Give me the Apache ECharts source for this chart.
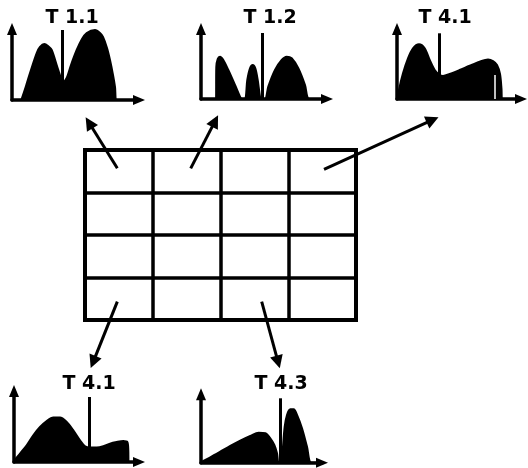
<!DOCTYPE html>
<html><head><meta charset="utf-8">
<script src="https://cdn.jsdelivr.net/npm/echarts@6/dist/echarts.min.js"></script>
<style>html,body{margin:0;padding:0;background:#fff}#c{width:528px;height:468px}</style>
</head><body><div id="c"></div>
<script>
// ---- data ----
const chartTitles = ['T 1.1', 'T 1.2', 'T 4.1', 'T 4.1', 'T 4.3'];
const curveT11 = [[0,0],[9,0],[10,2],[14,14],[18,27],[24.7,47],[28,53],[32.3,56],[36,54],[39.7,50],[46.3,30],[51.3,18],[54.7,22],[59,35],[64.7,50],[70,61],[74.7,67],[83,70],[88,67],[91,63],[95,52],[98,40],[101,25],[103,13],[104.7,0],[128,0]];
const curveT12 = [[0,0],[15,0],[15.3,32],[16.7,40],[19,42.3],[22.3,39],[27.3,29],[34,14],[39,2.3],[40.7,0],[44,0],[46.3,19],[49,30.7],[51.7,34],[54.3,30.7],[56.7,19],[59,2.3],[60,0],[64,0],[67.3,12.3],[74,29],[80.7,39],[85.7,42.3],[90.7,40.7],[97.3,30.7],[104,14],[108.3,0],[127,0]];
const curveT41a = [[0,0],[1,0],[2,9],[6,25.7],[11,40.7],[16,50.7],[22,54.7],[27.7,50.7],[32.7,39],[37.7,29],[42.7,24],[46,23],[52.7,25],[62.7,29],[72.7,33.3],[82.7,37.3],[91,39.5],[96,38],[100,34],[103,25],[104.5,10],[105,0],[125,0]];
const curveT41b = [[0,0],[0.5,1.7],[6,8.4],[12.7,16.7],[19.3,26.7],[26,35],[32.7,41],[39.3,44.4],[46,44.4],[52.7,40],[59.3,31.7],[66,21.7],[71,15.7],[76,14.4],[82.7,14.4],[89.3,15.7],[96,18.4],[102.7,20],[109.3,21],[113.3,20],[114.3,11.7],[114.5,0],[126,0]];
const curveT43 = [[0,0],[1,1],[9.3,5.4],[19.3,11],[29.3,16.7],[39.3,22],[49.3,26.7],[57.7,30],[64.3,29.4],[69.3,24.4],[73.3,17.7],[76,9.4],[77.7,0],[81,0],[82,16],[83.7,36],[86,47.7],[89.3,53.4],[92.7,53.4],[96,47.7],[101,34.4],[106,16],[110.3,0],[122,0]];
const curves = [curveT11, curveT12, curveT41a, curveT41b, curveT43];
const markerX = [50, 61.3, 42.7, 75.3, 79.3];
const markerTop = [70, 66, 65.7, 65, 64.4];
const gapMarkerX = [null, null, 98, null, null];
const gapMarkerTop = [null, null, 24, null, null];
const tableCols = 4;
const tableRows = 4;
// arrows in table cell units: [tailCol, tailRow, tipCol, tipRow]
const arrowLinks = [
  [0.477, 0.431, 0.06, -0.64],
  [1.56, 0.431, 1.92, -0.68],
  [3.528, 0.454, 5.13, -0.71],
  [0.477, 3.569, 0.12, 4.99],
  [2.608, 3.569, 2.85, 4.99]
];

// ---- layout (pixel positions) ----
const panels = [
  {axisX: 12,  base: 100,   tipX: 145, tipY: 23,    titleX: 72,  titleY: 18},
  {axisX: 201, base: 99,    tipX: 333, tipY: 23,    titleX: 270, titleY: 18},
  {axisX: 397, base: 99,    tipX: 527, tipY: 23,    titleX: 445, titleY: 18},
  {axisX: 14,  base: 462,   tipX: 145, tipY: 385,   titleX: 89,  titleY: 384},
  {axisX: 201, base: 462.7, tipX: 328, tipY: 388.3, titleX: 281, titleY: 384}
];
const table = {left: 85, top: 150, width: 271, height: 170};

const grids = [], xAxes = [], yAxes = [], series = [], graphics = [];
const axisLineStyle = {show: true, symbol: ['none', 'triangle'], symbolSize: [10, 12], lineStyle: {color: '#000', width: 3.5}};

panels.forEach((p, i) => {
  const w = p.tipX - 6 - p.axisX;
  const h = p.base - p.tipY - 6;
  grids.push({left: p.axisX, top: p.tipY + 6, width: w, height: h, show: false});
  xAxes.push({type: 'value', gridIndex: i, min: 0, max: w, axisLine: axisLineStyle,
    axisTick: {show: false}, axisLabel: {show: false}, splitLine: {show: false}});
  yAxes.push({type: 'value', gridIndex: i, min: 0, max: h, axisLine: axisLineStyle,
    axisTick: {show: false}, axisLabel: {show: false}, splitLine: {show: false}});
  const mlData = [[{coord: [markerX[i], 0], lineStyle: {color: '#000', width: 3}}, {coord: [markerX[i], markerTop[i]]}]];
  if (gapMarkerX[i] != null) {
    mlData.push([{coord: [gapMarkerX[i], 0], lineStyle: {color: '#fff', width: 1.5}}, {coord: [gapMarkerX[i], gapMarkerTop[i]]}]);
  }
  series.push({
    type: 'line', xAxisIndex: i, yAxisIndex: i, data: curves[i], symbol: 'none',
    smooth: 0.3, clip: false, z: 2,
    lineStyle: {color: '#000', width: 2}, areaStyle: {color: '#000', opacity: 1},
    markLine: {silent: true, symbol: ['none', 'none'], label: {show: false},
      lineStyle: {type: 'solid'}, data: mlData, z: 3}
  });
  graphics.push({type: 'text', x: p.titleX, y: p.titleY, z: 10,
    style: {text: chartTitles[i], fontSize: 19, fontWeight: 'bold', fontFamily: 'DejaVu Sans',
      fill: '#000', align: 'center', verticalAlign: 'middle'}});
});

// table grid
const ti = panels.length;
grids.push({left: table.left, top: table.top, width: table.width, height: table.height, show: true,
  borderColor: '#000', borderWidth: 4, backgroundColor: 'transparent'});
xAxes.push({type: 'value', gridIndex: ti, min: 0, max: tableCols, interval: 1,
  axisLine: {show: false}, axisTick: {show: false}, axisLabel: {show: false},
  splitLine: {show: true, lineStyle: {color: '#000', width: 3.5}}});
yAxes.push({type: 'value', gridIndex: ti, min: 0, max: tableRows, interval: 1, inverse: true,
  axisLine: {show: false}, axisTick: {show: false}, axisLabel: {show: false},
  splitLine: {show: true, lineStyle: {color: '#000', width: 3.5}}});
series.push({
  type: 'lines', coordinateSystem: 'cartesian2d', xAxisIndex: ti, yAxisIndex: ti, clip: false,
  symbol: ['none', 'triangle'], symbolSize: [11, 13],
  lineStyle: {color: '#000', width: 3, opacity: 1},
  data: arrowLinks.map(a => ({coords: [[a[0], a[1]], [a[2], a[3]]]}))
});

const chart = echarts.init(document.getElementById('c'));
chart.setOption({animation: false, backgroundColor: '#fff', grid: grids, xAxis: xAxes, yAxis: yAxes, series, graphic: graphics});
</script>
</body></html>
